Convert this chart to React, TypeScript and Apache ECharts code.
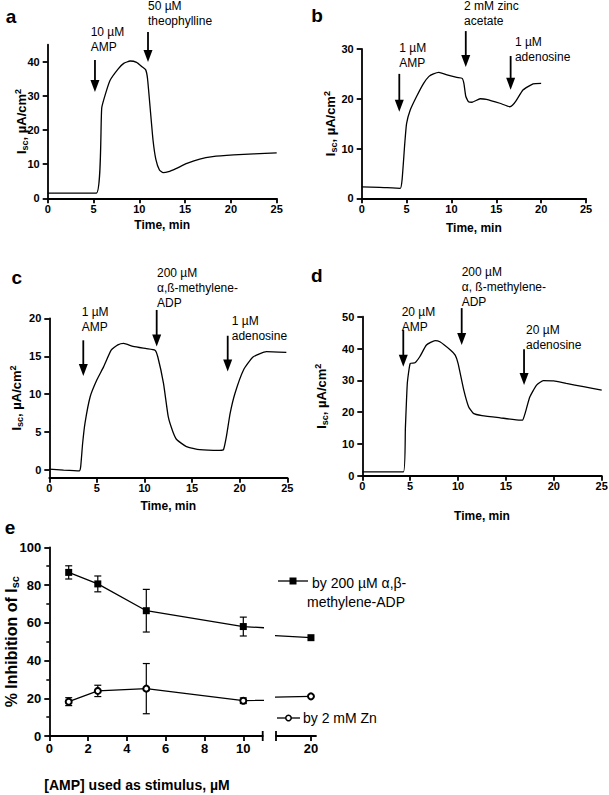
import React, { useEffect, useRef } from "react";
import * as echarts from "echarts";

const FONT = "'Liberation Sans', Arial, Helvetica, sans-serif";

// ---------- Panel a: 10 µM AMP, then 50 µM theophylline ----------
const traceA: [number, number][] = [
  [0, 1.5], [5.3, 1.5], [5.9, 26.5], [6.3, 30.5], [6.8, 34.5], [7.7, 37.9], [8.3, 39.5],
  [9, 40.2], [9.7, 39.8], [10.3, 38.5], [10.7, 37.6], [10.9, 35], [11.2, 26], [11.5, 17],
  [11.8, 11.5], [12.2, 8.3], [12.6, 7.5], [13.2, 7.8], [14, 8.7], [15.2, 10.2], [16.6, 11.5],
  [18, 12.2], [20.3, 12.7], [22.5, 13], [25, 13.3],
];
// ---------- Panel b ----------
const traceB: [number, number][] = [
  [0, 2.3], [2, 2.2], [4.3, 2.0], [4.5, 3.7], [4.8, 11], [5.0, 15], [5.4, 17.7], [6.1, 20.4],
  [6.9, 23.1], [7.5, 24.5], [8.0, 25], [8.6, 25.3], [9.5, 24.8], [10.6, 24.3], [11.2, 24.1],
  [11.4, 23], [11.6, 20.5], [11.9, 19.4], [12.3, 19.3], [13.2, 20], [13.9, 19.9], [15.4, 19.1],
  [16.5, 18.4], [16.8, 18.7], [17.2, 19.6], [18, 21.8], [19.1, 23], [20, 23.1],
];
// ---------- Panel c ----------
const traceC: [number, number][] = [
  [0, 0.13], [1.5, 0], [3.15, -0.1], [3.3, 0.5], [3.5, 3.5], [3.75, 6.2], [4.3, 9.7], [5, 11.9],
  [5.7, 13.6], [6.5, 15.8], [7.2, 16.5], [7.8, 16.7], [8.8, 16.3], [10.2, 16], [11.1, 15.8],
  [11.4, 14.9], [12, 11.4], [12.5, 7], [13, 5], [13.4, 4], [14.4, 3.1], [15.8, 2.7], [17.9, 2.6],
  [18.3, 2.7], [18.6, 4.4], [19, 7.5], [19.5, 10.1], [20.4, 13.2], [21.4, 14.9], [22.8, 15.6],
  [24.9, 15.5],
];
// ---------- Panel d ----------
const traceD: [number, number][] = [
  [0, 1.2], [4.3, 1.2], [4.5, 15], [4.7, 29], [5, 35.3], [5.5, 35.5], [6, 37.4], [6.7, 41.1],
  [7.6, 42.5], [8.1, 42.1], [9.2, 39.5], [9.7, 37.9], [10, 35.3], [10.6, 26.9], [11.1, 21.7],
  [11.6, 19.6], [12.5, 18.9], [14.4, 18.2], [16.5, 17.5], [16.75, 17.5], [17, 19.6], [17.5, 24.8],
  [18.2, 28.5], [18.9, 29.9], [20, 29.8], [21.3, 29], [23.1, 28], [25, 26.9],
];
// ---------- Panel e ----------
const eDoses = [1, 2.5, 5, 10, 20];
const eAdpMean = [86.7, 80.6, 66.4, 58, 52.1];
const eAdpErr = [3.5, 4.2, 11.3, 5, 0];
const eZnMean = [18.2, 23.9, 25.1, 18.7, 21];
const eZnErr = [2.1, 3, 13.3, 1.5, 0];

// tick labels
const timeTicks = [0, 5, 10, 15, 20, 25];
const yTicksA = [0, 10, 20, 30, 40];
const yTicksB = [0, 10, 20, 30];
const yTicksC = [0, 5, 10, 15, 20];
const yTicksD = [0, 10, 20, 30, 40, 50];
const eXTicks1 = [0, 2, 4, 6, 8, 10];
const eXTicks2 = [20];

// annotations (arrow in data coords, text offset from arrow top in px)
const ANNOTATIONS = [
  { grid: 0, t: 5.16, from: 40.5, to: 31.1, text: "10 µM\nAMP", dx: -4.3, dy: -35.5 },
  { grid: 0, t: 10.95, from: 48.7, to: 39.9, text: "50 µM\ntheophylline", dx: 0, dy: -33.5 },
  { grid: 1, t: 4.19, from: 25, to: 17.4, text: "1 µM\nAMP", dx: 0, dy: -33.5 },
  { grid: 1, t: 11.6, from: 33.6, to: 26.4, text: "2 mM zinc\nacetate", dx: -1.7, dy: -32.5 },
  { grid: 1, t: 16.6, from: 28.6, to: 21.8, text: "1 µM\nadenosine", dx: 4.3, dy: -21.5 },
  { grid: 2, t: 3.57, from: 17.1, to: 12.4, text: "1 µM\nAMP", dx: -1.6, dy: -35.8 },
  { grid: 2, t: 11.28, from: 21.1, to: 16.3, text: "200 µM\nα,ß-methylene-\nADP", dx: 0.3, dy: -44.5 },
  { grid: 2, t: 18.74, from: 17.7, to: 13, text: "1 µM\nadenosine", dx: 4, dy: -21.8 },
  { grid: 3, t: 4.28, from: 45.8, to: 34.3, text: "20 µM\nAMP", dx: -1.6, dy: -25.8 },
  { grid: 3, t: 10.38, from: 52.7, to: 41.1, text: "200 µM\nα, ß-methylene-\nADP", dx: 0, dy: -43.8 },
  { grid: 3, t: 16.89, from: 39.8, to: 28.5, text: "20 µM\nadenosine", dx: 2, dy: -26.5 },
];

const AXIS_W = 1.8;
const yName = "I{sub|sc}, µA/cm{sup|2}";

function yNameStyle(size: number, lh: number) {
  return {
    color: "#000",
    fontFamily: FONT,
    fontWeight: "bold" as const,
    fontSize: size,
    lineHeight: lh,
    rich: {
      sub: { fontSize: Math.round(size * 0.7), fontWeight: "bold", fontFamily: FONT, color: "#000", lineHeight: 10, verticalAlign: "bottom" },
      sup: { fontSize: Math.round(size * 0.7), fontWeight: "bold", fontFamily: FONT, color: "#000", lineHeight: 10, verticalAlign: "top" },
    },
  };
}

function valueAxis(o: any) {
  const labelSize = o.labelSize ?? 11;
  return {
    type: "value",
    gridIndex: o.gridIndex,
    min: o.min,
    max: o.max,
    show: o.show ?? true,
    name: o.name,
    nameLocation: "middle",
    nameGap: o.nameGap,
    nameMoveOverlap: false,
    nameTextStyle: o.nameTextStyle,
    axisLine: { show: true, onZero: false, lineStyle: { color: "#000", width: AXIS_W } },
    axisTick: { show: true, length: 5, customValues: o.ticks, lineStyle: { color: "#000", width: AXIS_W } },
    minorTick: o.minor ? { show: true, splitNumber: 2, length: 3, lineStyle: { color: "#000", width: 1.5 } } : { show: false },
    axisLabel: {
      customValues: o.ticks,
      color: "#000",
      fontFamily: FONT,
      fontWeight: "bold",
      fontSize: labelSize,
      margin: o.labelMargin ?? 8,
    },
    splitLine: { show: false },
    interval: o.interval,
  };
}

function xName(size: number, extra: any = {}) {
  return { color: "#000", fontFamily: FONT, fontWeight: "bold", fontSize: size, ...extra };
}

function trace(gridIndex: number, data: [number, number][]) {
  return {
    type: "line",
    xAxisIndex: gridIndex,
    yAxisIndex: gridIndex,
    data,
    showSymbol: false,
    symbol: "none",
    smooth: 0.15,
    lineStyle: { color: "#000", width: 1.3 },
    silent: true,
  };
}

const adpData = eDoses.map((d, i) => [d, eAdpMean[i]]);
const znData = eDoses.map((d, i) => [d, eZnMean[i]]);
const errData = [
  ...eDoses.map((d, i) => [d, eAdpMean[i], eAdpErr[i]]),
  ...eDoses.map((d, i) => [d, eZnMean[i], eZnErr[i]]),
].filter((r) => r[2] > 0);

function eLine(xi: number, name: string, data: number[][], symbol: string, size: number) {
  return {
    type: "line",
    name,
    xAxisIndex: xi,
    yAxisIndex: xi,
    data,
    clip: true,
    symbol,
    symbolSize: size,
    itemStyle: { color: "#000", borderColor: "#000", borderWidth: symbol === "emptyCircle" ? 1.5 : 0 },
    lineStyle: { color: "#000", width: 1.3 },
  };
}

const option: any = {
  animation: false,
  backgroundColor: "#fff",
  textStyle: { fontFamily: FONT },
  grid: [
    { left: 47.7, top: 44.6, width: 229, height: 153.7, outerBoundsMode: "none" },
    { left: 361.7, top: 49, width: 224.3, height: 149.3, outerBoundsMode: "none" },
    { left: 49.3, top: 318.3, width: 238, height: 159.4, outerBoundsMode: "none" },
    { left: 362.3, top: 316.7, width: 239.4, height: 159, outerBoundsMode: "none" },
    { left: 49.3, top: 547.3, width: 213.4, height: 188.7, outerBoundsMode: "none" },
    { left: 276, top: 547.3, width: 40, height: 188.7, outerBoundsMode: "none" },
  ],
  xAxis: [
    valueAxis({ gridIndex: 0, min: 0, max: 25, ticks: timeTicks, name: "Time, min", nameGap: 21, nameTextStyle: xName(12), labelMargin: 5 }),
    valueAxis({ gridIndex: 1, min: 0, max: 25, ticks: timeTicks, name: "Time, min", nameGap: 24, nameTextStyle: xName(12), labelMargin: 5 }),
    valueAxis({ gridIndex: 2, min: 0, max: 25, ticks: timeTicks, name: "Time, min", nameGap: 22.5, nameTextStyle: xName(12), labelMargin: 5 }),
    valueAxis({ gridIndex: 3, min: 0, max: 25, ticks: timeTicks, name: "Time, min", nameGap: 34, nameTextStyle: xName(12), labelMargin: 5 }),
    valueAxis({ gridIndex: 4, min: 0, max: 11, ticks: eXTicks1, labelSize: 13, labelMargin: 6, name: "[AMP] used as stimulus, µM", nameGap: 42, nameTextStyle: xName(14, { padding: [0, 38, 0, 0] }) }),
    valueAxis({ gridIndex: 5, min: 18.2, max: 20.26, ticks: eXTicks2, labelSize: 13, labelMargin: 6 }),
  ],
  yAxis: [
    valueAxis({ gridIndex: 0, min: 0, max: 45, ticks: yTicksA, name: yName, nameGap: 18, nameTextStyle: yNameStyle(13, 16) }),
    valueAxis({ gridIndex: 1, min: 0, max: 30, ticks: yTicksB, name: yName, nameGap: 23.7, nameTextStyle: yNameStyle(13, 16) }),
    valueAxis({ gridIndex: 2, min: -1, max: 20, ticks: yTicksC, name: yName, nameGap: 24.6, nameTextStyle: yNameStyle(13, 16) }),
    valueAxis({ gridIndex: 3, min: 0, max: 50, ticks: yTicksD, name: yName, nameGap: 32.6, nameTextStyle: yNameStyle(13, 16) }),
    {
      ...valueAxis({ gridIndex: 4, min: 0, max: 100, labelSize: 13, minor: true, name: "% Inhibition of I{sub|sc}", nameGap: 29, nameTextStyle: yNameStyle(16, 18) }),
      interval: 20,
      axisTick: { show: true, length: 5, lineStyle: { color: "#000", width: AXIS_W } },
      axisLabel: { color: "#000", fontFamily: FONT, fontWeight: "bold", fontSize: 13, margin: 8 },
    },
    { type: "value", gridIndex: 5, min: 0, max: 100, show: false, splitLine: { show: false } },
  ],
  series: [
    trace(0, traceA),
    trace(1, traceB),
    trace(2, traceC),
    trace(3, traceD),
    eLine(4, "by 200 µM α,β-methylene-ADP", adpData, "rect", 7),
    eLine(4, "by 2 mM Zn", znData, "emptyCircle", 6),
    eLine(5, "by 200 µM α,β-methylene-ADP", adpData, "rect", 7),
    eLine(5, "by 2 mM Zn", znData, "emptyCircle", 6),
    {
      type: "custom",
      xAxisIndex: 4,
      yAxisIndex: 4,
      data: errData,
      encode: { x: 0, y: 1 },
      z: 1,
      renderItem: (params: any, api: any) => {
        const x = api.value(0);
        const y = api.value(1);
        const e = api.value(2);
        const hi = api.coord([x, y + e]);
        const lo = api.coord([x, y - e]);
        const w = 3.5;
        const st = { stroke: "#000", lineWidth: 1.2 };
        return {
          type: "group",
          children: [
            { type: "line", shape: { x1: hi[0], y1: hi[1], x2: lo[0], y2: lo[1] }, style: st },
            { type: "line", shape: { x1: hi[0] - w, y1: hi[1], x2: hi[0] + w, y2: hi[1] }, style: st },
            { type: "line", shape: { x1: lo[0] - w, y1: lo[1], x2: lo[0] + w, y2: lo[1] }, style: st },
          ],
        };
      },
    },
  ],
};

function panelLabel(text: string, x: number, y: number) {
  return {
    type: "text",
    x,
    y,
    style: { text, fill: "#000", font: `bold 19px ${FONT}`, textAlign: "center", textVerticalAlign: "middle" },
  };
}

function legendGraphics() {
  const g: any[] = [];
  g.push({ type: "line", shape: { x1: 278, y1: 581, x2: 308, y2: 581 }, style: { stroke: "#000", lineWidth: 1.3 } });
  g.push({ type: "rect", shape: { x: 289.5, y: 577.5, width: 7, height: 7 }, style: { fill: "#000" } });
  g.push({ type: "text", x: 312, y: 582.7, style: { text: "by 200 µM α,β-", fill: "#000", font: `14px ${FONT}`, textVerticalAlign: "middle" } });
  g.push({ type: "text", x: 307, y: 601.7, style: { text: "methylene-ADP", fill: "#000", font: `14px ${FONT}`, textVerticalAlign: "middle" } });
  g.push({ type: "line", shape: { x1: 277, y1: 718, x2: 300, y2: 718 }, style: { stroke: "#000", lineWidth: 1.3 } });
  g.push({ type: "circle", shape: { cx: 288.5, cy: 718, r: 2.7 }, style: { fill: "#fff", stroke: "#000", lineWidth: 1.5 } });
  g.push({ type: "text", x: 303, y: 718, style: { text: "by 2 mM Zn", fill: "#000", font: `14px ${FONT}`, textVerticalAlign: "middle" } });
  return g;
}

export default function App() {
  const ref = useRef<HTMLDivElement>(null);
  useEffect(() => {
    const chart = echarts.init(ref.current!, null, { renderer: "svg" });
    chart.setOption(option);
    const g: any[] = [
      panelLabel("a", 11, 16),
      panelLabel("b", 317, 15),
      panelLabel("c", 16.7, 277),
      panelLabel("d", 316.7, 275),
      panelLabel("e", 10, 527),
      ...legendGraphics(),
    ];
    ANNOTATIONS.forEach((a) => {
      const top = chart.convertToPixel({ gridIndex: a.grid }, [a.t, a.from]) as number[];
      const tip = chart.convertToPixel({ gridIndex: a.grid }, [a.t, a.to]) as number[];
      const x = top[0];
      const headLen = 12;
      const headHalf = 4.5;
      g.push({ type: "line", shape: { x1: x, y1: top[1], x2: x, y2: tip[1] - headLen + 1 }, style: { stroke: "#000", lineWidth: 1.8 } });
      g.push({
        type: "polygon",
        shape: { points: [[x - headHalf, tip[1] - headLen], [x + headHalf, tip[1] - headLen], [x, tip[1]]] },
        style: { fill: "#000" },
      });
      g.push({
        type: "text",
        x: x + a.dx,
        y: top[1] + a.dy,
        style: { text: a.text, fill: "#000", font: `12px ${FONT}`, lineHeight: 15, textVerticalAlign: "top" },
      });
    });
    const b1 = chart.convertToPixel({ gridIndex: 4 }, [11, 0]) as number[];
    const b2 = chart.convertToPixel({ gridIndex: 5 }, [18.2, 0]) as number[];
    [b1, b2].forEach((p) => {
      g.push({ type: "line", shape: { x1: p[0], y1: p[1] - 5, x2: p[0], y2: p[1] + 5 }, style: { stroke: "#000", lineWidth: AXIS_W } });
    });
    chart.setOption({ graphic: g });
    return () => chart.dispose();
  }, []);
  return <div ref={ref} style={{ position: "absolute", left: 0, top: 0, width: 609, height: 795, background: "#fff" }} />;
}
